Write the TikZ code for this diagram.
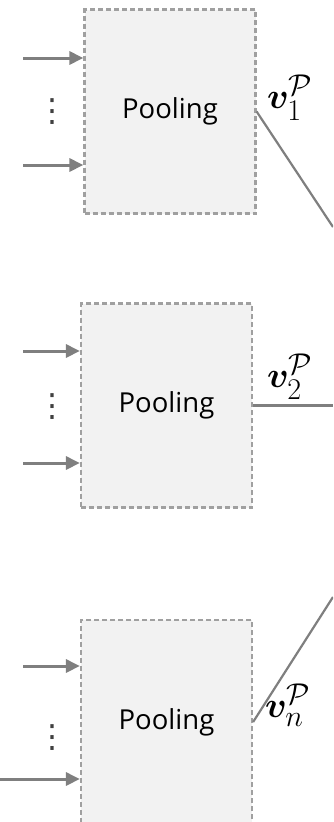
\documentclass[tikz,border=0pt]{standalone}
\usepackage{amsmath,amssymb,bm}
\usepackage{fontspec}
\setmainfont{Open Sans}
\newfontfamily\symfont{DejaVu Sans}
\usepackage{tikz}
\usepackage{xcolor}
\usetikzlibrary{positioning,arrows.meta,calc}

\definecolor{boxfill}{HTML}{F2F2F2}
\definecolor{boxline}{HTML}{A0A0A0}
\definecolor{arrgray}{HTML}{7F7F7F}
\definecolor{dotgray}{HTML}{404040}

\newcommand{\poolvec}[1]{\scalebox{1.45}{$\bm{v}_{#1}^{\mathcal{P}}$}}

\begin{document}
\begin{tikzpicture}[
      x=1pt, y=-1pt,
      poolbox/.style={draw=boxline, fill=boxfill, line width=2.2pt, dash pattern=on 5pt off 3pt, minimum width=171pt, minimum height=204pt, inner sep=0pt, font=\fontsize{27.5}{30}\selectfont},
      arr/.style={-{Triangle[length=14pt, width=13pt]}, draw=arrgray, line width=3pt},
      outln/.style={draw=arrgray, line width=2.2pt},
      vlab/.style={inner sep=0pt, font=\fontsize{24.88}{28}\selectfont},
      dotsn/.style={inner sep=0pt, text=dotgray, font=\symfont\fontsize{32}{34}\selectfont}
  ]
    \useasboundingbox (0,0) rectangle (333,822);
    \clip (0,0) rectangle (333,822);
    % pooling blocks
    \node[poolbox] (b1) at (170,111.5) {Pooling};
    \node[poolbox] (b2) at (166.5,405.5) {Pooling};
    \node[poolbox] (b3) at (166.5,722) {Pooling};
    % inputs
    \coordinate (i11) at (23,58);
    \coordinate (i12) at (23,165);
    \coordinate (i21) at (23,351);
    \coordinate (i22) at (23,463);
    \coordinate (i31) at (23,666);
    \coordinate (i32) at (0,779);
    \draw[arr] (i11) -- (i11 -| b1.west);
    \draw[arr] (i12) -- (i12 -| b1.west);
    \draw[arr] (i21) -- (i21 -| b2.west);
    \draw[arr] (i22) -- (i22 -| b2.west);
    \draw[arr] (i31) -- (i31 -| b3.west);
    \draw[arr] (i32) -- (i32 -| b3.west);
    \node[dotsn] (d1) at (52,112) {⋮};
    \node[dotsn] (d2) at (52,407) {⋮};
    \node[dotsn] (d3) at (52,738) {⋮};
    % outputs
    \coordinate (o1) at (333,227);
    \coordinate (o2) at (333,405.5);
    \coordinate (o3) at (333,597);
    \draw[outln] (b1.east) -- (o1);
    \draw[outln] (b2.east) -- (o2);
    \draw[outln] (b3.east) -- (o3);
    \node[vlab] (v1) at (290,98) {\poolvec{1}};
    \node[vlab] (v2) at (290,377) {\poolvec{2}};
    \node[vlab] (vn) at (288,705) {\poolvec{n}};
  \end{tikzpicture}
\end{document}
